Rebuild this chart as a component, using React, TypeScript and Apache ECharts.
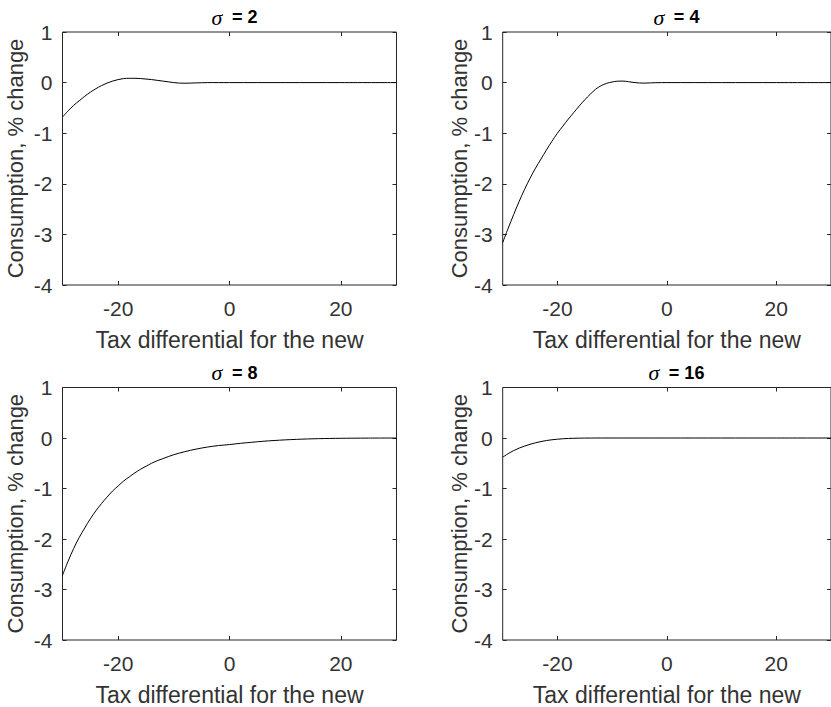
import React, { useEffect, useRef } from "react";
import * as echarts from "echarts";

// ---- data ----
const sigmaLabels = ["2", "4", "8", "16"];

const xSigma2 = [-30, -29, -28, -27, -26, -25, -24, -23, -22, -21, -20, -19, -18, -17, -16, -15, -14, -13, -12, -11, -10, -9, -8, -7, -6, -5, -4, -2, 0, 10, 20, 30];
const ySigma2 = [-0.68, -0.56, -0.45, -0.36, -0.27, -0.19, -0.12, -0.06, -0.01, 0.03, 0.06, 0.08, 0.085, 0.085, 0.08, 0.07, 0.06, 0.045, 0.03, 0.015, 0.0, -0.01, -0.012, -0.01, -0.006, -0.003, 0, 0, 0, 0, 0, 0];

const xSigma4 = [-30, -29, -28, -27, -26, -25, -24, -23, -22, -21, -20, -19, -18, -17, -16, -15, -14, -13, -12, -11, -10, -9, -8, -7, -6, -5, -4, -3, -2, 0, 10, 20, 30];
const ySigma4 = [-3.16, -2.88, -2.61, -2.35, -2.11, -1.89, -1.69, -1.51, -1.33, -1.16, -1.0, -0.86, -0.72, -0.59, -0.46, -0.34, -0.23, -0.13, -0.06, -0.015, 0.012, 0.028, 0.03, 0.018, 0.002, -0.008, -0.01, -0.006, -0.002, 0, 0, 0, 0];

const xSigma8 = [-30, -29, -28, -27, -26, -25, -24, -23, -22, -21, -20, -19, -18, -17, -16, -15, -14, -13, -12, -10, -8, -6, -4, -2, 0, 2, 4, 6, 8, 10, 12, 14, 16, 18, 20, 22, 25, 30];
const ySigma8 = [-2.72, -2.44, -2.19, -1.97, -1.78, -1.6, -1.44, -1.3, -1.17, -1.05, -0.95, -0.85, -0.77, -0.69, -0.62, -0.56, -0.5, -0.45, -0.41, -0.33, -0.27, -0.22, -0.18, -0.15, -0.13, -0.105, -0.085, -0.065, -0.05, -0.037, -0.027, -0.019, -0.013, -0.009, -0.006, -0.004, -0.002, 0];

const xSigma16 = [-30, -29, -28, -27, -26, -25, -24, -23, -22, -21, -20, -19, -18, -16, -14, -12, 0, 10, 20, 30];
const ySigma16 = [-0.38, -0.31, -0.25, -0.2, -0.16, -0.125, -0.095, -0.07, -0.05, -0.035, -0.024, -0.015, -0.009, -0.003, -0.001, 0, 0, 0, 0, 0];

const xTicks = [-20, 0, 20];
const xLabel = "Tax differential for the new";
const yLabel = "Consumption, % change";

const panelsX = [xSigma2, xSigma4, xSigma8, xSigma16];
const panelsY = [ySigma2, ySigma4, ySigma8, ySigma16];

// ---- styling / layout ----
const FONT = '"Liberation Sans", Arial, Helvetica, sans-serif';
const SERIF = '"Liberation Serif", "Times New Roman", serif';
const AX = "#262626";
const TXT = "#333333";

const grids = [
  { left: 62.5, top: 32, width: 334, height: 253 },
  { left: 502.7, top: 32, width: 337.5, height: 253 },
  { left: 62.5, top: 387.5, width: 334, height: 253.5 },
  { left: 502.7, top: 387.5, width: 337.5, height: 253.5 },
];
const yNameGaps = [36, 32, 36, 32];

function buildOption() {
  const xAxis: any[] = [];
  const yAxis: any[] = [];
  const series: any[] = [];
  const title: any[] = [];
  grids.forEach((g, i) => {
    const tick = { show: true, inside: true, length: 4, lineStyle: { color: AX, width: 1 } };
    const noLine = { show: false, onZero: false };
    xAxis.push({
      gridIndex: i,
      type: "value",
      min: -30,
      max: 30,
      position: "bottom",
      axisLine: noLine,
      axisTick: { ...tick, customValues: xTicks },
      axisLabel: { customValues: xTicks, fontSize: 21, color: TXT, fontFamily: FONT, margin: 13 },
      splitLine: { show: false },
      name: xLabel,
      nameLocation: "middle",
      nameGap: 43,
      nameTextStyle: { fontSize: 23, color: TXT, fontFamily: FONT },
    });
    xAxis.push({
      gridIndex: i,
      type: "value",
      min: -30,
      max: 30,
      position: "top",
      axisLine: noLine,
      axisTick: { ...tick, customValues: xTicks },
      axisLabel: { show: false, customValues: xTicks },
      splitLine: { show: false },
    });
    yAxis.push({
      gridIndex: i,
      type: "value",
      min: -4,
      max: 1,
      interval: 1,
      position: "left",
      axisLine: noLine,
      axisTick: tick,
      axisLabel: { fontSize: 21, color: TXT, fontFamily: FONT, margin: 10 },
      splitLine: { show: false },
      name: yLabel,
      nameLocation: "middle",
      nameGap: yNameGaps[i],
      nameTextStyle: { fontSize: 22, color: TXT, fontFamily: FONT },
    });
    yAxis.push({
      gridIndex: i,
      type: "value",
      min: -4,
      max: 1,
      interval: 1,
      position: "right",
      axisLine: noLine,
      axisTick: tick,
      axisLabel: { show: false },
      splitLine: { show: false },
    });
    const xs = panelsX[i];
    const ys = panelsY[i];
    series.push({
      type: "line",
      name: "\u03c3 = " + sigmaLabels[i],
      xAxisIndex: 2 * i,
      yAxisIndex: 2 * i,
      data: xs.map((x, k) => [x, ys[k]]),
      showSymbol: false,
      smooth: 0.35,
      lineStyle: { color: "#000000", width: 1 },
      clip: true,
    });
    const cx = g.left + (g.width * 30) / 60;
    title.push({
      text: "{s|\u03c3 }{b|= " + sigmaLabels[i] + "}",
      left: cx,
      top: g.top - 31,
      textAlign: "center",
      textStyle: {
        fontFamily: FONT,
        fontWeight: "bold",
        fontSize: 18,
        color: "#000",
        rich: {
          s: { fontFamily: SERIF, fontStyle: "italic", fontSize: 22, color: "#000", fontWeight: "normal", padding: [0, 4, 0, 0] },
          b: { fontFamily: FONT, fontWeight: "bold", fontSize: 18, color: "#000" },
        },
      },
    });
  });
  return {
    animation: false,
    backgroundColor: "#ffffff",
    title,
    grid: grids.map((g) => ({ ...g, show: true, borderColor: AX, borderWidth: 1, backgroundColor: "transparent" })),
    xAxis,
    yAxis,
    series,
  };
}

export default function App() {
  const ref = useRef<HTMLDivElement>(null);
  useEffect(() => {
    if (!ref.current) return;
    const chart = echarts.init(ref.current, null, { renderer: "svg" });
    chart.setOption(buildOption() as any);
    return () => chart.dispose();
  }, []);
  return (
    <div
      ref={ref}
      style={{ position: "absolute", left: 0, top: 0, width: 831, height: 707, background: "#fff" }}
    />
  );
}
